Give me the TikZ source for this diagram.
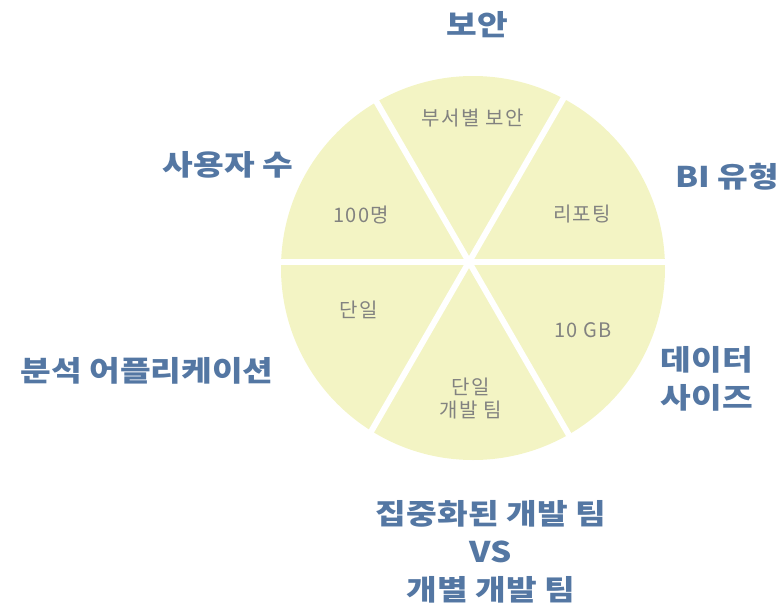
\documentclass[tikz,border=0pt]{standalone}
\usepackage{fontspec}
\usetikzlibrary{calc}
\newfontfamily\krout{Noto Sans CJK KR}[FakeStretch=1.17]
\newfontfamily\krin{Noto Sans CJK KR}[LetterSpace=7]
\definecolor{piefill}{RGB}{243,244,196}
\definecolor{outertxt}{RGB}{84,119,163}
\definecolor{innertxt}{RGB}{130,130,128}
\tikzset{
  outerlbl/.style={inner sep=0pt, align=center, text=outertxt,
    font=\krout\bfseries\fontsize{28.5}{38}\selectfont},
  innerlbl/.style={inner sep=0pt, align=center, text=innertxt,
    font=\krin\fontsize{20}{23}\selectfont},
  gapline/.style={draw=white, line width=6pt}
}
\begin{document}
\begin{tikzpicture}[x=1pt,y=-1pt]
\useasboundingbox (0,0) rectangle (780,606);
% pie body
\coordinate (pc) at (473,268);
\coordinate (hub) at (469,262);
\fill[piefill] (pc) circle (192);
% gaps between the six wedges
\draw[gapline] ($(hub)+(-220,0)$) -- ($(hub)+(220,0)$);
\draw[gapline] ($(hub)+(-110,-190.5)$) -- ($(hub)+(110,190.5)$);
\draw[gapline] ($(hub)+(110,-190.5)$) -- ($(hub)+(-110,190.5)$);
% wedge texts
\node[innerlbl] (w1) at (473,118) {부서별 보안};
\node[innerlbl] (w2) at (582,214) {리포팅};
\node[innerlbl] (w3) at (583,330) {10 GB};
\node[innerlbl] (w4) at (471,399) {단일\\개발 팀};
\node[innerlbl] (w5) at (359,310) {단일};
\node[innerlbl] (w6) at (361,215) {100명};
% outer labels
\node[outerlbl] (o1) at (477,25) {보안};
\node[outerlbl] (o2) at (727,177) {BI 유형};
\node[outerlbl] (o3) at (707,379) {데이터\\사이즈};
\node[outerlbl] (o4) at (491,552) {집중화된 개발 팀\\VS\\개별 개발 팀};
\node[outerlbl] (o5) at (147,371) {분석 어플리케이션};
\node[outerlbl] (o6) at (228,165) {사용자 수};
\end{tikzpicture}
\end{document}
